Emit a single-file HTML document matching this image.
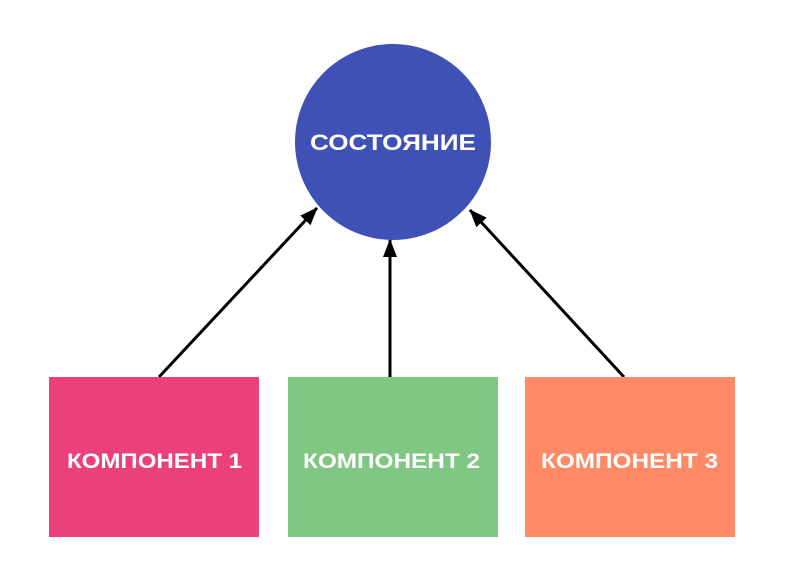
<!DOCTYPE html>
<html><head><meta charset="utf-8"><style>
html,body{margin:0;padding:0;background:#fff;width:786px;height:583px;overflow:hidden}
svg text{font-family:"Liberation Sans",sans-serif;font-weight:bold;fill:#fff}
</style></head><body>
<svg width="786" height="583" viewBox="0 0 786 583">
<defs>
<marker id="b" markerWidth="18" markerHeight="14" refX="17" refY="7" orient="auto" markerUnits="userSpaceOnUse" viewBox="0 0 18 14"><path d="M0,0 L18,7 L0,14z" fill="#000"/></marker></defs>
<circle cx="393" cy="142" r="98" fill="#3f51b5"/>
<text x="310" y="150" font-size="22" textLength="166" lengthAdjust="spacingAndGlyphs">СОСТОЯНИЕ</text>
<line x1="159" y1="377" x2="317" y2="208" stroke="#000" stroke-width="3" marker-end="url(#b)"/>
<line x1="390" y1="377" x2="390" y2="240" stroke="#000" stroke-width="3" marker-end="url(#b)"/>
<line x1="624" y1="377" x2="470" y2="210" stroke="#000" stroke-width="3" marker-end="url(#b)"/>
<rect x="49" y="377" width="210" height="160" fill="#ec407a"/>
<rect x="288" y="377" width="210" height="160" fill="#81c784"/>
<rect x="525" y="377" width="210" height="160" fill="#ff8a65"/>
<text x="67" y="468" font-size="21" textLength="175" lengthAdjust="spacingAndGlyphs">КОМПОНЕНТ 1</text>
<text x="303" y="468" font-size="21" textLength="177" lengthAdjust="spacingAndGlyphs">КОМПОНЕНТ 2</text>
<text x="541" y="468" font-size="21" textLength="177" lengthAdjust="spacingAndGlyphs">КОМПОНЕНТ 3</text>
</svg>
</body></html>
